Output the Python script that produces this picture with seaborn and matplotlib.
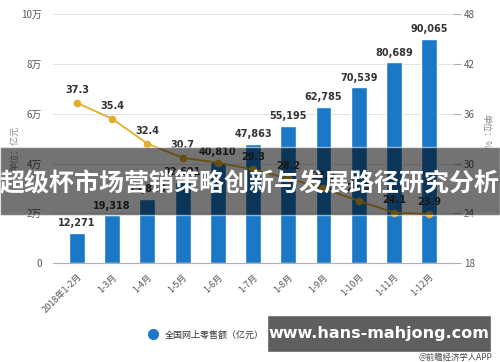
import numpy as np
import pandas as pd
import matplotlib
matplotlib.use('Agg')
import matplotlib.pyplot as plt
import seaborn as sns
from matplotlib.patches import Rectangle
from matplotlib.lines import Line2D

months = ['2018年1-2月', '1-3月', '1-4月', '1-5月', '1-6月', '1-7月',
          '1-8月', '1-9月', '1-10月', '1-11月', '1-12月']
retail = [12271, 19318, 25858, 32691, 40810, 47863, 55195, 62785, 70539, 80689, 90065]
growth = [37.3, 35.4, 32.4, 30.7, 30.1, 29.3, 28.2, 27.0, 25.5, 24.1, 23.9]
left_ticks = [0, 20000, 40000, 60000, 80000, 100000]
left_labels = ['0', '2万', '4万', '6万', '8万', '10万']
right_ticks = [18, 24, 30, 36, 42, 48]

sns.set_style('white')
plt.rcParams['font.family'] = ['Noto Sans CJK SC', 'DejaVu Sans']

bar_color = '#1a78c6'
line_color = '#e3ad2c'
grey = '#555555'

df = pd.DataFrame({'month': months, 'retail': retail, 'growth': growth})
df['pos'] = range(len(df))

fig = plt.figure(figsize=(5, 3.62), dpi=100)
ax = fig.add_axes([0.106, 0.273, 0.8, 0.688])

sns.barplot(data=df, x='month', y='retail', color=bar_color, width=0.45,
            saturation=1, ax=ax, zorder=2)
ax.set_ylim(0, 100000)
ax.set_xlim(-0.68, 10.68)
ax.set_yticks(left_ticks)
ax.set_yticklabels(left_labels)
ax.yaxis.grid(True, color='#e3e3e3', lw=0.8, zorder=0)
ax.set_axisbelow(True)
for s in ['top', 'right', 'left']:
    ax.spines[s].set_visible(False)
ax.spines['bottom'].set_color('#b0b0b0')
ax.tick_params(axis='y', labelsize=7, colors=grey, length=0, pad=8)
ax.tick_params(axis='x', labelsize=6.5, colors=grey, length=3, color='#b0b0b0')
plt.setp(ax.get_xticklabels(), rotation=45, ha='right', rotation_mode='anchor')
ax.set_xlabel('')
ax.set_ylabel('')
for i, v in enumerate(retail):
    ax.text(i, v + 1800, f'{v:,}', ha='center', va='bottom', fontsize=7,
            fontweight='bold', color='#333333', family='DejaVu Sans')

ax2 = ax.twinx()
sns.lineplot(data=df, x='pos', y='growth', color=line_color, lw=1.3,
             marker='o', markersize=5.5, markeredgewidth=0, ax=ax2, zorder=3)
ax2.set_ylim(18, 48)
ax2.set_yticks(right_ticks)
ax2.set_xlim(-0.68, 10.68)
ax2.set_ylabel('')
for s in ['top', 'right', 'left', 'bottom']:
    ax2.spines[s].set_visible(False)
ax2.tick_params(axis='y', labelsize=7, colors=grey, length=6, color='#b0b0b0', pad=2)
for i, v in enumerate(growth):
    if i == 4:
        continue  # this label sits under the bar label in the original
    ax2.text(i, v + 0.9, f'{v}', ha='center', va='bottom', fontsize=7,
             fontweight='bold', color='#333333', family='DejaVu Sans')

fig.text(0.03, 0.59, '单位：亿元', rotation=90, fontsize=6.5, color='#888888',
         ha='center', va='center')
fig.text(0.972, 0.635, '单位：%', rotation=270, fontsize=6.5, color='#888888',
         ha='center', va='center')

handles = [Line2D([], [], ls='', marker='o', ms=7, color=bar_color),
           Line2D([], [], ls='', marker='o', ms=7, color=line_color)]
fig.legend(handles, ['全国网上零售额（亿元）', '同比增长（%）'], loc='center',
           bbox_to_anchor=(0.505, 0.075), ncol=2, frameon=False, fontsize=6.5,
           handletextpad=0.3, columnspacing=1.5, labelcolor='#333333')
fig.text(0.985, 0.0, '@前瞻经济学人APP', ha='right', va='bottom', fontsize=6,
         color='#444444')

# overlay banner and watermark box
fig.patches.append(Rectangle((0, 0.406), 1, 0.188, transform=fig.transFigure,
                             facecolor='black', alpha=0.55, zorder=10))
fig.text(0.5, 0.492, '超级杯市场营销策略创新与发展路径研究分析', ha='center',
         va='center', fontsize=18, fontweight='bold', color='white', zorder=11)
fig.patches.append(Rectangle((0.534, 0.028), 0.448, 0.103, transform=fig.transFigure,
                             facecolor='#5a5a5a', alpha=0.97, zorder=10))
fig.text(0.758, 0.078, 'www.hans-mahjong.com', ha='center', va='center',
         fontsize=11.5, fontweight='bold', color='white', family='DejaVu Sans',
         zorder=11)

fig.savefig('out.png', dpi=100)
